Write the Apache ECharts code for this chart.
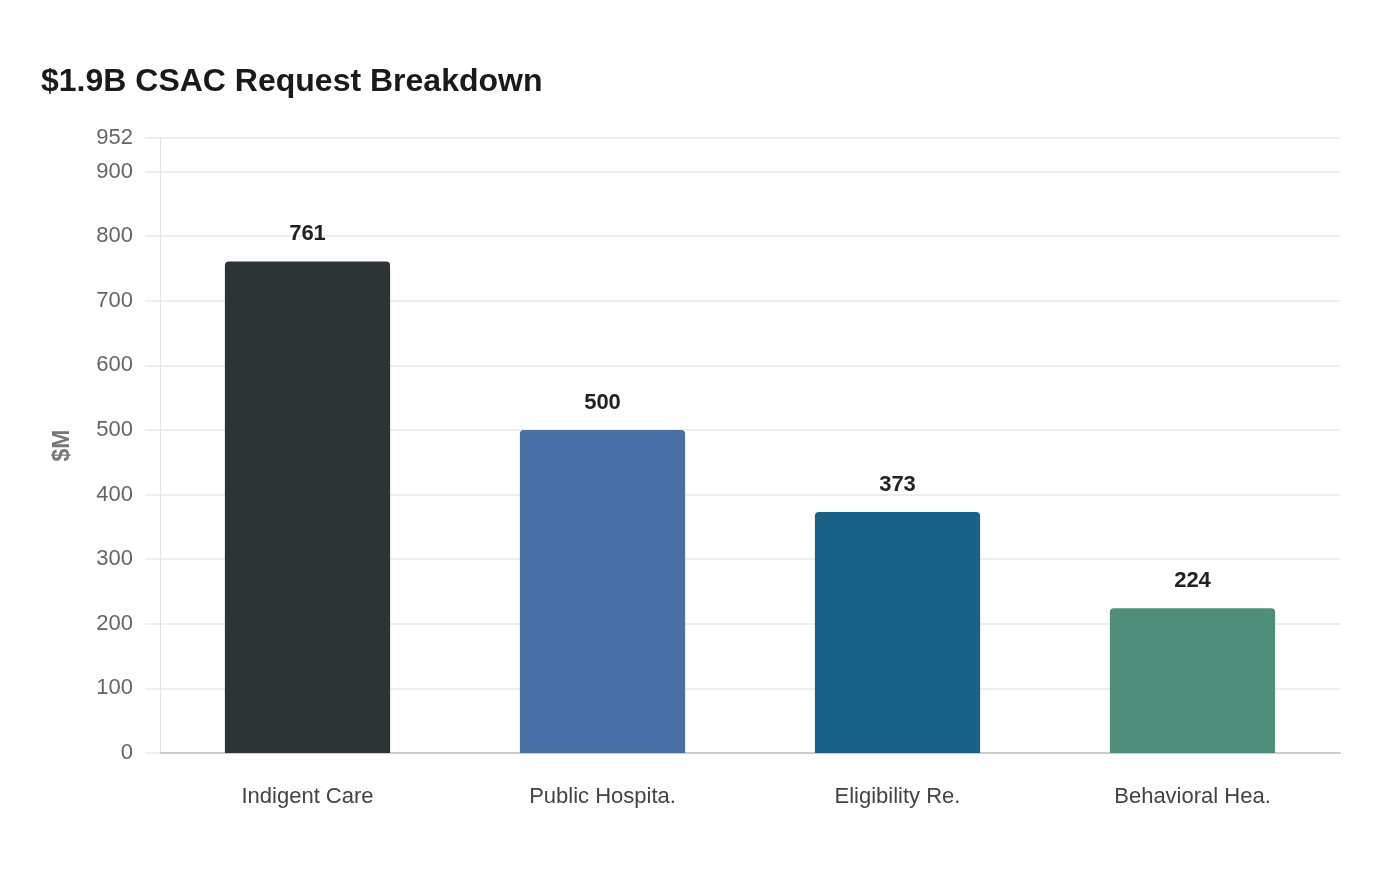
<!DOCTYPE html>
<html lang="en">
<head>
    <meta charset="UTF-8">
    <title>CSAC Request Breakdown</title>
    <script src="https://cdn.jsdelivr.net/npm/echarts@6/dist/echarts.min.js"></script>
    <style>
        html, body { margin: 0; padding: 0; background: #fff; }
        #main { width: 1400px; height: 880px; }
    </style>
</head>
<body>
<div id="main"></div>
<script>
    // categories and values ($M)
    var categories = ['Indigent Care', 'Public Hospita.', 'Eligibility Re.', 'Behavioral Hea.'];
    var values = [761, 500, 373, 224];
    var barColors = ['#2d3436', '#4a6fa5', '#1a6187', '#4e8e7a'];
    var yMax = 952;

    var myChart = echarts.init(document.getElementById('main'));
    var option = {
        backgroundColor: '#fff',
        textStyle: { fontFamily: 'Liberation Sans, Arial, sans-serif' },
        title: {
            text: '$1.9B CSAC Request Breakdown',
            left: 36,
            top: 61,
            textStyle: { fontSize: 32, fontWeight: 'bold', color: '#1a1a1a' }
        },
        grid: { left: 160, right: 60, top: 138, bottom: 127 },
        xAxis: {
            type: 'category',
            data: categories,
            axisLine: { lineStyle: { color: '#ccc', width: 2 } },
            axisTick: { show: false },
            axisLabel: { fontSize: 22, color: '#444', margin: 33 }
        },
        yAxis: {
            type: 'value',
            min: 0,
            max: yMax,
            interval: 100,
            name: '$M',
            nameLocation: 'middle',
            nameGap: 86,
            nameTextStyle: { fontSize: 23, fontWeight: 'bold', color: '#777' },
            axisLine: { show: true, lineStyle: { color: '#e3e3e3', width: 1 } },
            axisTick: { show: true, length: 15, lineStyle: { color: '#eee', width: 2 } },
            axisLabel: { fontSize: 22, color: '#666', margin: 27 },
            splitLine: { lineStyle: { color: '#eee', width: 2 } }
        },
        series: [{
            type: 'bar',
            barWidth: '56%',
            data: values.map(function (v, i) {
                return { value: v, itemStyle: { color: barColors[i] } };
            }),
            itemStyle: { borderRadius: [4, 4, 0, 0] },
            label: {
                show: true,
                position: 'top',
                distance: 16,
                fontSize: 22,
                fontWeight: 'bold',
                color: '#222'
            }
        }]
    };
    myChart.setOption(option);
</script>
</body>
</html>
